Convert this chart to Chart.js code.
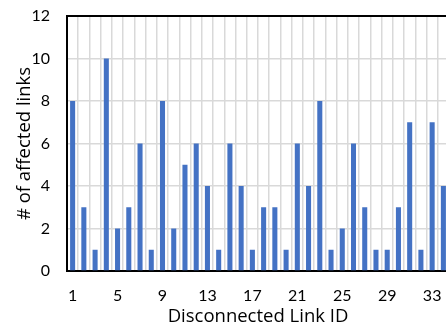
<!DOCTYPE html>
<html>
<head>
<meta charset="utf-8">
<script src="https://cdn.jsdelivr.net/npm/chart.js@4"></script>
<style>
  html, body { margin: 0; padding: 0; background: #fff; overflow: hidden; }
  #wrap { width: 452px; height: 328px; }
</style>
</head>
<body>
<div id="wrap"><canvas id="linkChart"></canvas></div>
<script>
// Link IDs 1..34 and number of links affected when each one is disconnected
const linkIds = [1, 2, 3, 4, 5, 6, 7, 8, 9, 10, 11, 12, 13, 14, 15, 16, 17,
                 18, 19, 20, 21, 22, 23, 24, 25, 26, 27, 28, 29, 30, 31, 32, 33, 34];
const affectedLinks = [8, 3, 1, 10, 2, 3, 6, 1, 8, 2, 5, 6, 4, 1, 6, 4, 1,
                       3, 3, 1, 6, 4, 8, 1, 2, 6, 3, 1, 1, 3, 7, 1, 7, 4];
const yTicks = [0, 2, 4, 6, 8, 10, 12];

const tickFont = { family: "Lato, 'Open Sans', sans-serif", size: 16 };
const titleFont = { family: "'Open Sans', sans-serif", size: 18.5 };

// black line along the top edge of the plot
const topBorder = {
    id: 'topBorder',
    afterDatasetsDraw(chart) {
        const { ctx, chartArea } = chart;
        ctx.save();
        ctx.strokeStyle = '#000';
        ctx.lineWidth = 2;
        ctx.beginPath();
        ctx.moveTo(chartArea.left - 1, chartArea.top);
        ctx.lineTo(chartArea.right, chartArea.top);
        ctx.stroke();
        ctx.restore();
    }
};

new Chart(document.getElementById('linkChart'), {
    type: 'bar',
    data: {
        labels: linkIds,
        datasets: [{
            data: affectedLinks,
            backgroundColor: '#4472C4',
            barPercentage: 0.45,
            categoryPercentage: 1
        }]
    },
    options: {
        responsive: true,
        maintainAspectRatio: false,
        animation: false,
        layout: { padding: { top: 16, right: 3, left: 14, bottom: 0 } },
        plugins: { legend: { display: false }, tooltip: { enabled: false } },
        scales: {
            x: {
                afterFit: function(scale) {
                    scale.height = 57;
                    scale.paddingLeft = 0;
                    scale.paddingRight = 0;
                },
                grid: { color: '#d9d9d9', lineWidth: 1.5, drawTicks: false },
                border: { color: '#000', width: 2 },
                ticks: {
                    color: '#000', font: tickFont, padding: 15,
                    autoSkip: false, maxRotation: 0,
                    callback: function(value, index) {
                        return index % 4 === 0 ? linkIds[index] : '';
                    }
                },
                title: { display: true, text: 'Disconnected Link ID', color: '#000', font: titleFont, padding: 0 }
            },
            y: {
                min: 0, max: 12,
                afterBuildTicks: function(axis) {
                    axis.ticks = yTicks.map(v => ({ value: v }));
                },
                afterFit: function(scale) {
                    scale.width = 53;
                    scale.paddingTop = 0;
                    scale.paddingBottom = 0;
                },
                grid: { color: '#d9d9d9', lineWidth: 1.5, drawTicks: false },
                border: { color: '#000', width: 2 },
                ticks: { color: '#000', font: tickFont, padding: 17 },
                title: { display: true, text: '# of affected links', color: '#000', font: titleFont, padding: 0 }
            }
        }
    },
    plugins: [topBorder]
});
</script>
</body>
</html>
